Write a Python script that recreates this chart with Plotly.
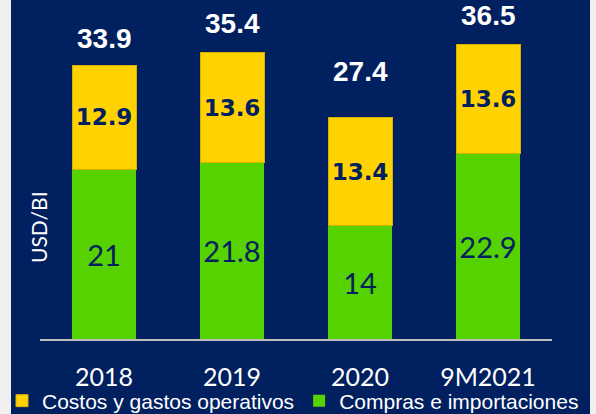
import plotly.graph_objects as go

categories = ["2018", "2019", "2020", "9M2021"]
compras = [21, 21.8, 14, 22.9]
costos = [12.9, 13.6, 13.4, 13.6]
totales = [33.9, 35.4, 27.4, 36.5]
series_names = ["Compras e importaciones", "Costos y gastos operativos"]

NAVY = "#002060"
GREEN = "#55D200"
YELLOW = "#FFD200"
W, H = 596, 414


def px_x(p):
    return p / W


def px_y(p):
    return (H - p) / H


fig = go.Figure()
fig.add_trace(go.Bar(
    x=categories, y=compras, name=series_names[0],
    marker=dict(color=GREEN, line=dict(width=0)),
    text=[f"{v:g}" for v in compras], textposition="inside",
    insidetextanchor="middle", constraintext="none", textangle=0,
    textfont=dict(family="Lato, sans-serif", size=29, color=NAVY),
))
fig.add_trace(go.Bar(
    x=categories, y=costos, name=series_names[1],
    marker=dict(color=YELLOW, line=dict(width=1, color="#D9B000")),
    text=[f"{v:g}" for v in costos], textposition="inside",
    insidetextanchor="middle", constraintext="none", textangle=0,
    textfont=dict(family="Arial Black, DejaVu Sans", size=23, color=NAVY, weight="bold"),
))

yshifts = [27, 29, 46, 29]
for i, (t, s) in enumerate(zip(totales, yshifts)):
    fig.add_annotation(x=i, y=t, text=f"<b>{t:g}</b>", showarrow=False,
                       yanchor="middle", yshift=s,
                       font=dict(family="Liberation Sans, Arial", size=28, color="white"))

fig.add_annotation(xref="paper", yref="paper", x=px_x(38), y=px_y(227),
                   text="USD/BI", textangle=-90, showarrow=False,
                   xanchor="center", yanchor="middle",
                   font=dict(family="Lato, sans-serif", size=21, color="white"))

fig.add_shape(type="rect", xref="paper", yref="paper",
              x0=px_x(11), x1=px_x(590), y0=-0.05, y1=1.05,
              fillcolor=NAVY, line=dict(width=0), layer="below")

fig.update_layout(
    width=W, height=H,
    margin=dict(l=0, r=0, t=0, b=0, autoexpand=False),
    paper_bgcolor="#f0f0f0",
    plot_bgcolor="rgba(0,0,0,0)",
    barmode="stack", bargap=0.5,
    showlegend=True,
    legend=dict(orientation="h", traceorder="reversed",
                x=px_x(2), xanchor="left",
                y=px_y(401), yanchor="middle",
                font=dict(family="Liberation Sans, Arial", size=21, color="white"),
                itemwidth=30, bgcolor="rgba(0,0,0,0)"),
    xaxis=dict(type="category", domain=[px_x(40), px_x(552)],
               range=[-0.5, 3.5], automargin=False,
               showline=True, linecolor="#BFBFBF", linewidth=2, ticks="",
               ticklabelstandoff=15,
               tickfont=dict(family="Lato, sans-serif", size=25, color="white"),
               showgrid=False, zeroline=False),
    yaxis=dict(domain=[px_y(339), 1], range=[0, 339 / 8.08], automargin=False,
               visible=False, showgrid=False, zeroline=False),
)

fig.write_html("out.html", config={"displayModeBar": False},
               post_script="document.body.style.margin='0';")
